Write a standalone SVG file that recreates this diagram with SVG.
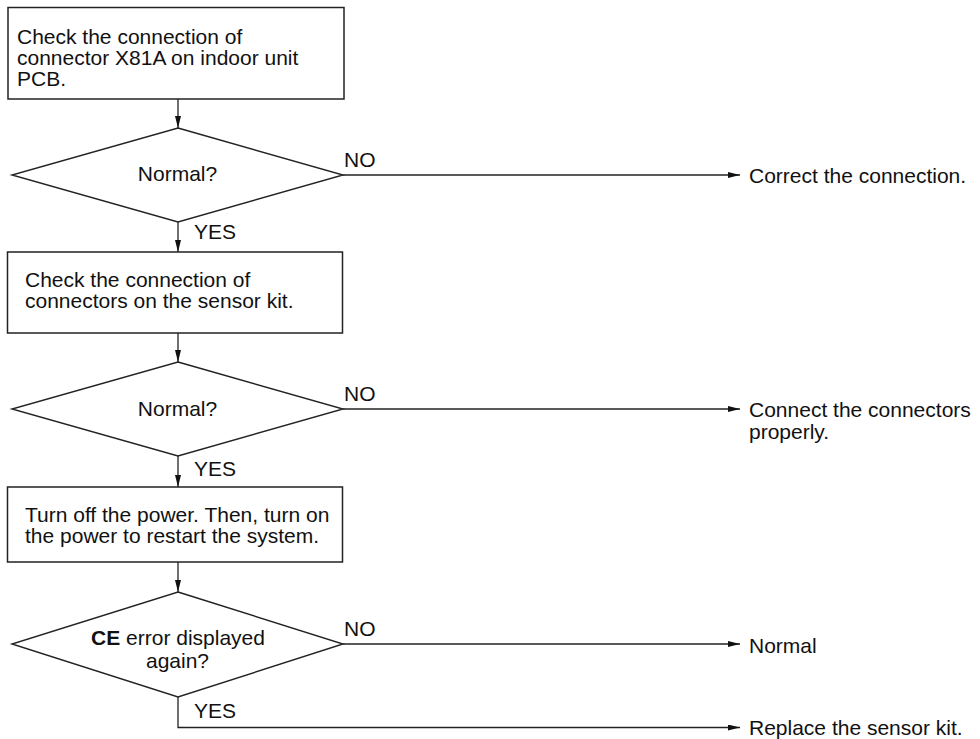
<svg xmlns="http://www.w3.org/2000/svg" width="980" height="739" viewBox="0 0 980 739">
<defs>
<style>
text{font-family:"Liberation Sans",Arial,sans-serif;font-size:21px;fill:#111}
.box{fill:#fff;stroke:#222;stroke-width:1.5}
.dia{fill:#fff;stroke:#222;stroke-width:1.4}
.ln{fill:none;stroke:#222;stroke-width:1.3}
.m{text-anchor:middle}
</style>
<marker id="ah" viewBox="0 0 12 6" refX="12" refY="3" markerWidth="12" markerHeight="6" markerUnits="userSpaceOnUse" orient="auto">
<path d="M0,0 L12,3 L0,6 Z" fill="#111"/>
</marker>
</defs>
<rect width="980" height="739" fill="#fff"/>
<g id="connectors">
<line class="ln" x1="178" y1="99" x2="178" y2="128" marker-end="url(#ah)"/>
<line class="ln" x1="178" y1="222" x2="178" y2="252" marker-end="url(#ah)"/>
<line class="ln" x1="178" y1="333" x2="178" y2="362" marker-end="url(#ah)"/>
<line class="ln" x1="178" y1="456" x2="178" y2="487" marker-end="url(#ah)"/>
<line class="ln" x1="178" y1="562" x2="178" y2="592" marker-end="url(#ah)"/>
<line class="ln" x1="343" y1="175" x2="740" y2="175" marker-end="url(#ah)"/>
<line class="ln" x1="343" y1="409" x2="740" y2="409" marker-end="url(#ah)"/>
<line class="ln" x1="343" y1="644" x2="740" y2="644" marker-end="url(#ah)"/>
<polyline class="ln" points="178,697 178,727.5 740,727.5" marker-end="url(#ah)"/>
<text x="344" y="167">NO</text>
<text x="344" y="401">NO</text>
<text x="344" y="636">NO</text>
<text x="194" y="239">YES</text>
<text x="194" y="476">YES</text>
<text x="194" y="718">YES</text>
</g>
<g id="box1">
<rect class="box" x="8" y="7.5" width="336" height="91.5"/>
<text x="17" y="43.5">Check the connection of</text>
<text x="17" y="65">connector X81A on indoor unit</text>
<text x="17" y="86">PCB.</text>
</g>
<g id="dec1">
<polygon class="dia" points="178,128 343,175 178,222 12,175"/>
<text class="m" x="177.5" y="181">Normal?</text>
</g>
<g id="res1"><text x="749" y="183">Correct the connection.</text></g>
<g id="box2">
<rect class="box" x="7.5" y="252" width="335" height="81"/>
<text x="25" y="287">Check the connection of</text>
<text x="25" y="308">connectors on the sensor kit.</text>
</g>
<g id="dec2">
<polygon class="dia" points="178,362 343,409 178,456 12,409"/>
<text class="m" x="177.5" y="415.5">Normal?</text>
</g>
<g id="res2">
<text x="749" y="417">Connect the connectors</text>
<text x="749" y="439">properly.</text>
</g>
<g id="box3">
<rect class="box" x="7.5" y="487" width="335" height="75"/>
<text x="25" y="521.5">Turn off the power. Then, turn on</text>
<text x="25" y="543">the power to restart the system.</text>
</g>
<g id="dec3">
<polygon class="dia" points="178,592 343,644 178,697 12,644"/>
<text class="m" x="178" y="644.5"><tspan font-weight="bold">CE</tspan> error displayed</text>
<text class="m" x="177.5" y="667.5">again?</text>
</g>
<g id="res3"><text x="749" y="652.5">Normal</text></g>
<g id="res4"><text x="749" y="735">Replace the sensor kit.</text></g>
</svg>
